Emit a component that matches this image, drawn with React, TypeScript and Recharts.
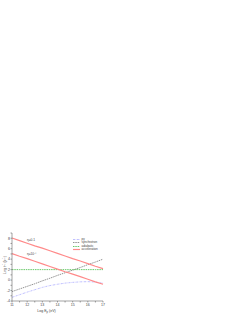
import React from 'react';
import { LineChart, Line, XAxis, YAxis, Legend, ReferenceDot, Label } from 'recharts';

const energy = [11, 11.5, 12, 12.5, 13, 13.5, 14, 14.5, 15, 15.5, 16, 16.5, 17];
const pGamma = [-3.3, -2.8, -2.3, -1.85, -1.4, -1.05, -0.8, -0.58, -0.44, -0.34, -0.3, -0.38, -0.6];
const synchrotron = [-2.2, -1.7, -1.2, -0.7, -0.15, 0.35, 0.9, 1.4, 1.9, 2.4, 2.95, 3.45, 4.0];
const adiabatic = [2, 2, 2, 2, 2, 2, 2, 2, 2, 2, 2, 2, 2];
const accelHigh = [8.05, 7.55, 7.05, 6.55, 6.1, 5.6, 5.1, 4.6, 4.1, 3.65, 3.15, 2.65, 2.2];
const accelLow = [5.05, 4.55, 4.1, 3.6, 3.1, 2.6, 2.1, 1.6, 1.15, 0.65, 0.15, -0.35, -0.8];

const xTicks = [11, 11.5, 12, 12.5, 13, 13.5, 14, 14.5, 15, 15.5, 16, 16.5, 17];
const yTicks = [-4, -3, -2, -1, 0, 1, 2, 3, 4, 5, 6, 7, 8, 9];
const xLabelled = [11, 12, 13, 14, 15, 16, 17];
const yLabelled = [-4, -2, 0, 2, 4, 6, 8];
const seriesNames = ['pγ', 'synchrotron', 'adiabatic', 'acceleration'];
const annotHigh = { x: 12.25, y: 7.7, text: 'η=0.1' };
const annotLow = { x: 12.3, y: 5.0, text: 'η=10⁻⁴' };

const data = energy.map((e, i) => ({
  e,
  pg: pGamma[i],
  sync: synchrotron[i],
  adi: adiabatic[i],
  accHigh: accelHigh[i],
  accLow: accelLow[i],
}));

const FONT = '"Liberation Sans", Arial, sans-serif';
const RED = '#ff8a8a';
const GREEN = '#44bb44';
const GRAY = '#777777';
const BLUE = '#b0b0ff';
const AXIS = '#666666';

const legendStyles = [
  { color: BLUE, dash: '2 0.7 0.5 0.7', width: 0.8 },
  { color: GRAY, dash: '1.5 0.8', width: 0.8 },
  { color: GREEN, dash: '1.5 0.8', width: 0.8 },
  { color: RED, dash: '', width: 1.2 },
];

const LegendContent = () => (
  <div style={{ fontFamily: FONT, fontSize: 3, lineHeight: '3.3px', color: '#444' }}>
    {seriesNames.map((n, i) => (
      <div key={n} style={{ display: 'flex', alignItems: 'center', height: 3.3 }}>
        <svg width={7} height={3} style={{ marginRight: 1.5 }}>
          <line x1={0} y1={1.5} x2={7} y2={1.5} stroke={legendStyles[i].color}
            strokeWidth={legendStyles[i].width} strokeDasharray={legendStyles[i].dash} />
        </svg>
        <span>{n}</span>
      </div>
    ))}
  </div>
);

const YTitle = (props: any) => {
  const vb = props.viewBox || { x: 0, y: 233, width: 12, height: 68 };
  const cx = 5;
  const cy = vb.y + vb.height / 2 - 2;
  return (
    <text x={cx} y={cy} transform={`rotate(-90, ${cx}, ${cy})`} textAnchor="middle"
      dominantBaseline="central" fontSize={3.6} fontFamily={FONT} fill="#444">
      Log t<tspan dy={-1.2} fontSize={2.6}>-1</tspan><tspan dy={1.2}> (s</tspan>
      <tspan dy={-1.2} fontSize={2.6}>-1</tspan><tspan dy={1.2}>)</tspan>
    </text>
  );
};

const XTitle = (props: any) => {
  const vb = props.viewBox || { x: 12, y: 301, width: 91, height: 14 };
  const cx = vb.x + vb.width / 2 - 11;
  const cy = vb.y + 11;
  return (
    <text x={cx} y={cy} textAnchor="middle" fontSize={3.6} fontFamily={FONT} fill="#444">
      Log E<tspan dy={0.9} fontSize={2.6}>p</tspan><tspan dy={-0.9}> (eV)</tspan>
    </text>
  );
};

const xFmt = (v: number) => (xLabelled.includes(v) ? String(v) : '');
const yFmt = (v: number) => (yLabelled.includes(v) ? String(v) : '');

export default function App() {
  return (
    <div style={{ position: 'absolute', left: 0, top: 0, width: 246, height: 315, background: '#fff' }}>
      <LineChart width={246} height={315} data={data}
        margin={{ top: 233, right: 143, bottom: 0, left: 0 }}>
        <XAxis dataKey="e" type="number" domain={[11, 17]} ticks={xTicks} height={14}
          stroke={AXIS} strokeWidth={0.6} tickSize={1.5} tickMargin={0.5} tickFormatter={xFmt}
          tick={{ fontSize: 3.6, fontFamily: FONT, fill: '#444' }} interval={0}>
          <Label content={<XTitle />} />
        </XAxis>
        <XAxis xAxisId="top" dataKey="e" type="number" domain={[11, 17]} ticks={xTicks}
          orientation="top" height={0} mirror stroke={AXIS} strokeWidth={0.6} tickSize={1.5}
          tickFormatter={() => ''} interval={0} />
        <YAxis type="number" domain={[-4, 9]} ticks={yTicks} width={12} stroke={AXIS}
          strokeWidth={0.6} tickSize={1.5} tickMargin={0.5} tickFormatter={yFmt}
          tick={{ fontSize: 3.6, fontFamily: FONT, fill: '#444' }} interval={0}>
          <Label content={<YTitle />} />
        </YAxis>
        <YAxis yAxisId="right" type="number" domain={[-4, 9]} ticks={yTicks} orientation="right"
          width={0} mirror stroke={AXIS} strokeWidth={0.6} tickSize={1.5} tickFormatter={() => ''}
          interval={0} />
        <Legend layout="vertical" align="center" verticalAlign="middle" content={<LegendContent />}
          wrapperStyle={{ position: 'absolute', left: 73, top: 238, width: 30, margin: 0 }} />
        <Line dataKey="pg" name="pγ" stroke={BLUE} strokeWidth={0.8} strokeDasharray="2 0.7 0.5 0.7"
          dot={false} isAnimationActive={false} />
        <Line dataKey="sync" name="synchrotron" stroke={GRAY} strokeWidth={0.8} strokeDasharray="1.5 0.8"
          dot={false} isAnimationActive={false} />
        <Line dataKey="adi" name="adiabatic" stroke={GREEN} strokeWidth={0.8} strokeDasharray="1.5 0.8"
          dot={false} isAnimationActive={false} />
        <Line dataKey="accHigh" name="acceleration" stroke={RED} strokeWidth={1.2}
          dot={false} isAnimationActive={false} />
        <Line dataKey="accLow" name="acceleration2" legendType="none" stroke={RED} strokeWidth={1.2}
          dot={false} isAnimationActive={false} />
        <ReferenceDot x={annotHigh.x} y={annotHigh.y} r={0} fill="none" stroke="none"
          label={{ value: annotHigh.text, position: 'center', fontSize: 3.2, fontFamily: FONT, fill: '#444' }} />
        <ReferenceDot x={annotLow.x} y={annotLow.y} r={0} fill="none" stroke="none"
          label={{ value: annotLow.text, position: 'center', fontSize: 3.2, fontFamily: FONT, fill: '#444' }} />
      </LineChart>
    </div>
  );
}
